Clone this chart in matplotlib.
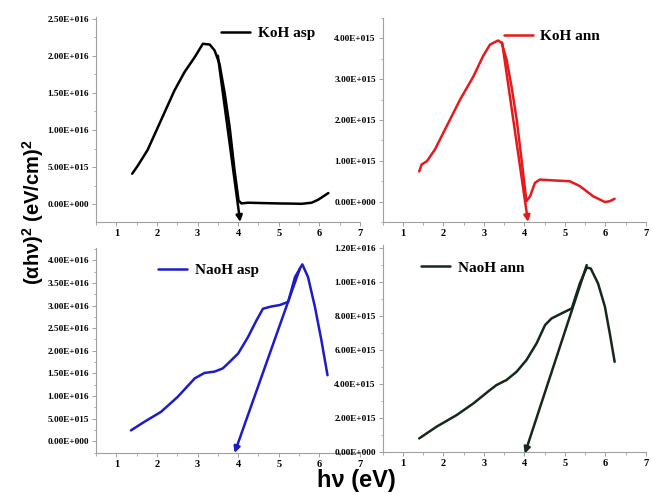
import math
import matplotlib
matplotlib.use("Agg")
import matplotlib.pyplot as plt
from matplotlib.ticker import FuncFormatter, MultipleLocator, AutoMinorLocator

plt.rcParams['mathtext.fontset'] = 'custom'
plt.rcParams['mathtext.bf'] = 'Liberation Sans:bold'
plt.rcParams['mathtext.rm'] = 'Liberation Sans:bold'

# KoH as-prepared
koh_asp_x = [1.39, 1.53, 1.77, 2.10, 2.43, 2.68, 2.93, 3.13, 3.30, 3.42, 3.54, 3.67,
             3.79, 3.91, 4.01, 4.08, 4.24, 4.60, 5.00, 5.30, 5.56, 5.81, 5.97, 6.22]
koh_asp_y = [0.41e16, 0.52e16, 0.73e16, 1.13e16, 1.53e16, 1.78e16, 1.98e16, 2.16e16,
             2.15e16, 2.07e16, 1.89e16, 1.49e16, 1.04e16, 0.46e16, 0.05e16, 0.01e16,
             0.02e16, 0.015e16, 0.01e16, 0.008e16, 0.005e16, 0.02e16, 0.06e16, 0.15e16]

# KoH annealed
koh_ann_x = [1.40, 1.46, 1.59, 1.79, 2.08, 2.41, 2.74, 2.98, 3.15, 3.35, 3.44, 3.56,
             3.68, 3.81, 3.93, 4.05, 4.14, 4.26, 4.38, 4.71, 5.12, 5.37, 5.70, 5.99,
             6.11, 6.23]
koh_ann_y = [0.74e15, 0.91e15, 0.99e15, 1.28e15, 1.85e15, 2.50e15, 3.07e15, 3.57e15,
             3.85e15, 3.95e15, 3.89e15, 3.48e15, 2.83e15, 2.01e15, 1.03e15, 0.01e15,
             0.13e15, 0.46e15, 0.54e15, 0.52e15, 0.50e15, 0.38e15, 0.13e15, -0.01e15,
             0.01e15, 0.07e15]

# NaoH as-prepared
naoh_asp_x = [1.36, 1.69, 2.10, 2.51, 2.93, 3.17, 3.42, 3.62, 3.75, 4.00, 4.24, 4.45,
              4.61, 4.82, 5.02, 5.23, 5.40, 5.58, 5.72, 5.89, 6.05, 6.20]
naoh_asp_y = [0.24e16, 0.43e16, 0.65e16, 0.98e16, 1.39e16, 1.51e16, 1.54e16, 1.61e16,
              1.72e16, 1.94e16, 2.30e16, 2.67e16, 2.93e16, 2.98e16, 3.01e16, 3.08e16,
              3.63e16, 3.91e16, 3.63e16, 2.97e16, 2.23e16, 1.46e16]

# NaoH annealed
naoh_ann_x = [1.40, 1.83, 2.33, 2.74, 3.15, 3.31, 3.56, 3.81, 4.05, 4.30, 4.51, 4.67,
              4.92, 5.17, 5.37, 5.54, 5.64, 5.82, 5.99, 6.11, 6.23]
naoh_ann_y = [0.80e15, 1.49e15, 2.18e15, 2.86e15, 3.65e15, 3.94e15, 4.24e15, 4.73e15,
              5.41e15, 6.39e15, 7.47e15, 7.86e15, 8.16e15, 8.45e15, 9.92e15, 10.86e15,
              10.80e15, 9.92e15, 8.55e15, 6.98e15, 5.31e15]

# tangent (band-gap extrapolation) lines: (start x, start y) -> (end x, end y)
koh_asp_tangent = [(3.50, 2.00e16), (4.05, -0.24e16)]
koh_ann_tangent = [(3.45, 3.90e15), (4.09, -0.50e15)]
naoh_asp_tangent = [(5.52, 3.82e16), (3.91, -0.26e16)]
naoh_ann_tangent = [(5.54, 1.10e16), (4.01, -0.01e16)]

labels = ['KoH asp', 'KoH ann', 'NaoH asp', 'NaoH ann']
colors = ['#000000', '#e41a1c', '#1c1cc8', '#13291a']


def sci_fmt(v, pos):
    if abs(v) < 1e-3:
        return '0.00E+000'
    e = int(math.floor(math.log10(abs(v)) + 1e-9))
    return '%.2fE+%03d' % (v / 10 ** e, e)


fig = plt.figure(figsize=(6.51, 4.95), dpi=100)
ax1 = fig.add_axes([0.1475, 0.5515, 0.4055, 0.414])
ax2 = fig.add_axes([0.588, 0.5515, 0.404, 0.412])
ax3 = fig.add_axes([0.1475, 0.0848, 0.4055, 0.414])
ax4 = fig.add_axes([0.588, 0.0869, 0.404, 0.418])

panels = [
    (ax1, koh_asp_x, koh_asp_y, koh_asp_tangent, (-2.4e15, 2.52e16), 5e15, 2.5e16, (0.475, 0.92)),
    (ax2, koh_ann_x, koh_ann_y, koh_ann_tangent, (-0.5e15, 4.5e15), 1e15, 4e15, (0.46, 0.91)),
    (ax3, naoh_asp_x, naoh_asp_y, naoh_asp_tangent, (-2.6e15, 4.27e16), 5e15, 4e16, (0.235, 0.89)),
    (ax4, naoh_ann_x, naoh_ann_y, naoh_ann_tangent, (0, 1.218e16), 2e15, 1.2e16, (0.145, 0.89)),
]

for i, (ax, xs, ys, tan, ylim, ystep, ymax, legpos) in enumerate(panels):
    c = colors[i]
    ax.plot(xs, ys, color=c, lw=1.8, label=labels[i], solid_joinstyle='round',
            solid_capstyle='round')
    (x0, y0), (x1, y1) = tan
    ax.annotate('', xy=(x1, y1), xytext=(x0, y0), annotation_clip=False,
                arrowprops=dict(arrowstyle='-|>', color=c, lw=1.8, mutation_scale=9,
                                shrinkA=0, shrinkB=0))
    ax.set_xlim(0.5, 7)
    ax.set_ylim(*ylim)
    ax.set_xticks(range(1, 8))
    ax.xaxis.set_minor_locator(MultipleLocator(0.5))
    ax.set_yticks([k * ystep for k in range(int(round(ymax / ystep)) + 1)])
    ax.yaxis.set_minor_locator(AutoMinorLocator(2))
    ax.yaxis.set_major_formatter(FuncFormatter(sci_fmt))
    for s in ['top', 'right']:
        ax.spines[s].set_visible(False)
    for s in ['left', 'bottom']:
        ax.spines[s].set_color('#a0a0a0')
        ax.spines[s].set_linewidth(0.8)
    ax.tick_params(which='major', direction='out', length=3, width=0.7, color='#a0a0a0', pad=2)
    ax.tick_params(which='minor', direction='out', length=1.8, width=0.6, color='#a0a0a0')
    for t in ax.get_yticklabels():
        t.set_fontfamily('Liberation Serif')
        t.set_fontweight('bold')
        t.set_fontsize(6.7)
    for t in ax.get_xticklabels():
        t.set_fontfamily('Liberation Serif')
        t.set_fontweight('bold')
        t.set_fontsize(7.5)
    ax.legend(loc='center left', bbox_to_anchor=legpos, frameon=False,
              handlelength=1.9, handletextpad=0.5, borderpad=0, borderaxespad=0,
              prop={'family': 'Liberation Serif', 'weight': 'bold', 'size': 11})

fig.text(0.051, 0.572, r'(αhν)$^{\mathbf{2}}$ (eV/cm)$^{\mathbf{2}}$', rotation=90,
         ha='center', va='center', fontsize=14.5, fontweight='bold', family='Liberation Sans')
fig.text(0.548, 0.03, 'hν (eV)', ha='center', va='center', fontsize=17,
         fontweight='bold', family='Liberation Sans')

fig.savefig('out.png', dpi=100)
